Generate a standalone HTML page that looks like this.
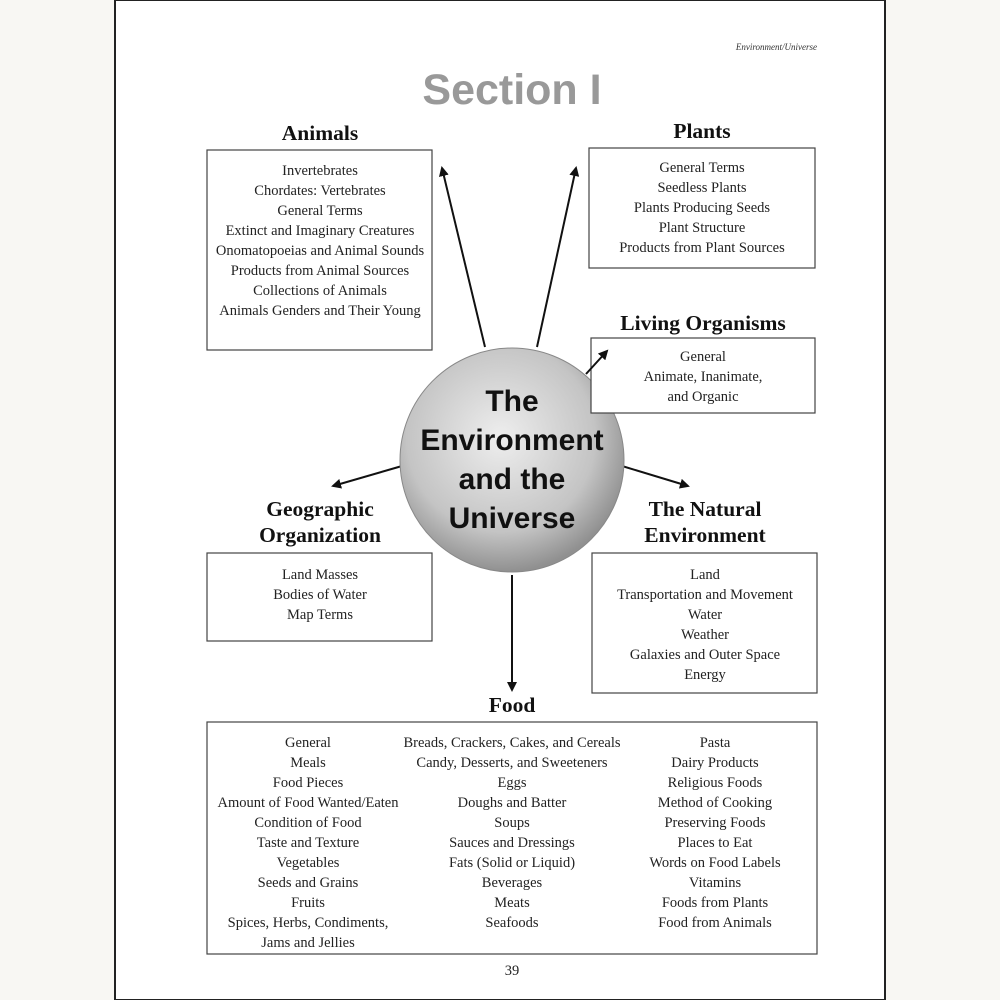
<!DOCTYPE html>
<html><head><style>
html,body{margin:0;padding:0;background:#f8f7f3;}
svg{display:block}
.t{font-family:"Liberation Serif",serif;font-size:14.5px;fill:#222;text-anchor:middle}
.h{font-family:"Liberation Serif",serif;font-size:21.5px;font-weight:bold;fill:#111;text-anchor:middle}
.b{fill:#fff;stroke:#444;stroke-width:1.2}
.a{stroke:#111;stroke-width:2;fill:none;marker-end:url(#ar)}
</style></head><body>
<svg width="1000" height="1000" viewBox="0 0 1000 1000">
<defs>
<marker id="ar" markerWidth="10" markerHeight="10" refX="8" refY="5" orient="auto" markerUnits="userSpaceOnUse"><path d="M0,0 L10,5 L0,10 z" fill="#111"/></marker>
<radialGradient id="g" cx="45%" cy="40%" r="60%"><stop offset="0" stop-color="#eeeeee"/><stop offset="0.7" stop-color="#c4c4c4"/><stop offset="1" stop-color="#909090"/></radialGradient>
</defs>
<rect x="115" y="0" width="770" height="1000" fill="#fff" stroke="#222" stroke-width="2"/>
<text x="817" y="50" style="font-family:'Liberation Serif',serif;font-style:italic;font-size:9px;fill:#333;text-anchor:end">Environment/Universe</text>
<text x="512" y="104" style="font-family:'Liberation Sans',sans-serif;font-weight:bold;font-size:43px;fill:#999;text-anchor:middle">Section I</text>

<line class="a" x1="485" y1="347" x2="442" y2="168"/>
<line class="a" x1="537" y1="347" x2="576" y2="168"/>
<line class="a" x1="402" y1="466" x2="333" y2="486"/>
<line class="a" x1="622" y1="466" x2="688" y2="486"/>
<line class="a" x1="512" y1="575" x2="512" y2="690"/>

<circle cx="512" cy="460" r="112" fill="url(#g)" stroke="#888" stroke-width="1"/>
<g style="font-family:'Liberation Sans',sans-serif;font-weight:bold;font-size:30px;fill:#111;text-anchor:middle">
<text x="512" y="411">The</text><text x="512" y="450">Environment</text><text x="512" y="489">and the</text><text x="512" y="528">Universe</text></g>

<text class="h" x="320" y="140">Animals</text>
<rect class="b" x="207" y="150" width="225" height="200"/>
<text class="t" x="320" y="175">Invertebrates</text><text class="t" x="320" y="195">Chordates: Vertebrates</text><text class="t" x="320" y="215">General Terms</text><text class="t" x="320" y="235">Extinct and Imaginary Creatures</text><text class="t" x="320" y="255">Onomatopoeias and Animal Sounds</text><text class="t" x="320" y="275">Products from Animal Sources</text><text class="t" x="320" y="295">Collections of Animals</text><text class="t" x="320" y="315">Animals Genders and Their Young</text>

<text class="h" x="702" y="138">Plants</text>
<rect class="b" x="589" y="148" width="226" height="120"/>
<text class="t" x="702" y="172">General Terms</text><text class="t" x="702" y="192">Seedless Plants</text><text class="t" x="702" y="212">Plants Producing Seeds</text><text class="t" x="702" y="232">Plant Structure</text><text class="t" x="702" y="252">Products from Plant Sources</text>

<text class="h" x="703" y="330">Living Organisms</text>
<rect class="b" x="591" y="338" width="224" height="75"/>
<line class="a" x1="586" y1="374" x2="607" y2="351"/>
<text class="t" x="703" y="361">General</text><text class="t" x="703" y="381">Animate, Inanimate,</text><text class="t" x="703" y="401">and Organic</text>

<text class="h" x="320" y="516">Geographic</text><text class="h" x="320" y="542">Organization</text>
<rect class="b" x="207" y="553" width="225" height="88"/>
<text class="t" x="320" y="579">Land Masses</text><text class="t" x="320" y="599">Bodies of Water</text><text class="t" x="320" y="619">Map Terms</text>

<text class="h" x="705" y="516">The Natural</text><text class="h" x="705" y="542">Environment</text>
<rect class="b" x="592" y="553" width="225" height="140"/>
<text class="t" x="705" y="579">Land</text><text class="t" x="705" y="599">Transportation and Movement</text><text class="t" x="705" y="619">Water</text><text class="t" x="705" y="639">Weather</text><text class="t" x="705" y="659">Galaxies and Outer Space</text><text class="t" x="705" y="679">Energy</text>

<text class="h" x="512" y="712">Food</text>
<rect class="b" x="207" y="722" width="610" height="232"/>
<text class="t" x="308" y="747">General</text><text class="t" x="308" y="767">Meals</text><text class="t" x="308" y="787">Food Pieces</text><text class="t" x="308" y="807">Amount of Food Wanted/Eaten</text><text class="t" x="308" y="827">Condition of Food</text><text class="t" x="308" y="847">Taste and Texture</text><text class="t" x="308" y="867">Vegetables</text><text class="t" x="308" y="887">Seeds and Grains</text><text class="t" x="308" y="907">Fruits</text><text class="t" x="308" y="927">Spices, Herbs, Condiments,</text><text class="t" x="308" y="947">Jams and Jellies</text>
<text class="t" x="512" y="747">Breads, Crackers, Cakes, and Cereals</text><text class="t" x="512" y="767">Candy, Desserts, and Sweeteners</text><text class="t" x="512" y="787">Eggs</text><text class="t" x="512" y="807">Doughs and Batter</text><text class="t" x="512" y="827">Soups</text><text class="t" x="512" y="847">Sauces and Dressings</text><text class="t" x="512" y="867">Fats (Solid or Liquid)</text><text class="t" x="512" y="887">Beverages</text><text class="t" x="512" y="907">Meats</text><text class="t" x="512" y="927">Seafoods</text>
<text class="t" x="715" y="747">Pasta</text><text class="t" x="715" y="767">Dairy Products</text><text class="t" x="715" y="787">Religious Foods</text><text class="t" x="715" y="807">Method of Cooking</text><text class="t" x="715" y="827">Preserving Foods</text><text class="t" x="715" y="847">Places to Eat</text><text class="t" x="715" y="867">Words on Food Labels</text><text class="t" x="715" y="887">Vitamins</text><text class="t" x="715" y="907">Foods from Plants</text><text class="t" x="715" y="927">Food from Animals</text>
<text class="t" x="512" y="975">39</text>
</svg>
</body></html>
